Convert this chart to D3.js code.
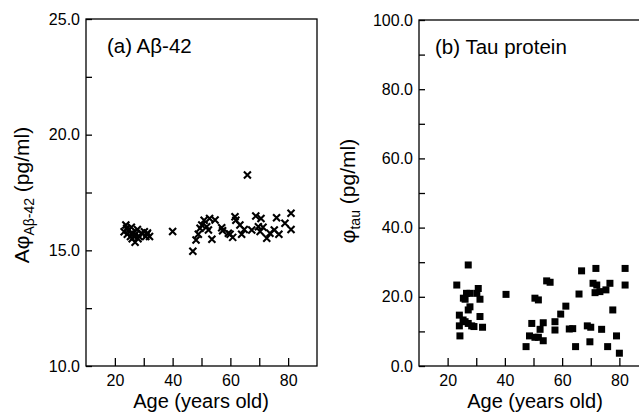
<!DOCTYPE html>
<html>
<head>
<meta charset="utf-8">
<script src="https://cdn.jsdelivr.net/npm/d3@7"></script>
<style>
  html, body { margin: 0; padding: 0; background: #fff; }
  svg { display: block; font-family: "Liberation Sans", Arial, sans-serif; }
</style>
</head>
<body>
<svg id="chart" width="639" height="412"></svg>
<script>
// ---- Data ----
const abAge = [23.2, 23.8, 24.1, 24.3, 24.6, 25.4, 25.7, 26.0, 26.1, 26.6, 27.0, 27.2, 27.8, 28.0, 28.4, 29.2, 30.2, 30.7, 31.1, 31.3, 32.0,
  40.0, 47.0, 48.1, 48.9, 49.5, 50.1, 50.9, 51.8, 52.4, 52.8, 53.6, 54.7, 57.0, 57.3, 59.3, 59.9, 60.8, 61.6, 61.9, 63.3, 63.9, 64.8,
  65.9, 67.4, 68.8, 69.7, 70.6, 70.3, 71.3, 72.6, 73.7, 75.2, 76.0, 76.8, 78.9, 81.0, 81.0];
const abVal = [15.8, 16.1, 15.95, 15.7, 15.85, 15.6, 16.0, 15.5, 15.75, 15.6, 15.35, 15.7, 15.9, 15.5, 15.6, 15.75, 15.8, 15.6, 15.7, 15.75, 15.6,
  15.81, 14.96, 15.45, 15.7, 15.95, 16.1, 16.3, 16.02, 15.88, 16.38, 15.48, 16.31, 15.98, 15.85, 15.74, 15.7, 15.56, 16.45, 16.3, 16.1, 15.7, 15.9,
  18.26, 15.88, 16.48, 16.02, 16.38, 15.81, 16.0, 15.52, 15.74, 15.88, 16.41, 15.7, 16.17, 16.6, 15.9];

const tauAge = [23.2, 27.2, 26.6, 27.8, 26.1, 25.5, 30.7, 31.3, 30.2, 27.8, 27.2, 24.1, 31.3, 24.1, 26.1, 27.2, 29.2, 32.2, 24.3, 25.4, 28.4,
  40.4, 47.4, 48.6, 49.4, 50.5, 51.7, 50.5, 51.7, 52.3, 53.4, 53.4, 54.6, 55.8, 57.5, 57.5, 59.5, 61.3, 62.5, 63.7, 64.7, 65.9, 66.8,
  68.8, 70.0, 69.7, 70.8, 72.1, 71.5, 71.8, 73.2, 73.8, 75.3, 75.9, 76.7, 77.7, 79.0, 80.0, 82.0, 82.0];
const tauVal = [23.4, 29.2, 21.0, 21.0, 19.3, 19.6, 22.4, 19.3, 21.0, 17.1, 16.2, 14.7, 14.3, 11.6, 12.8, 12.3, 11.4, 11.2, 8.7, 13.3, 11.6,
  20.7, 5.6, 8.7, 12.3, 19.6, 19.1, 8.3, 8.3, 10.6, 12.5, 7.3, 24.6, 24.2, 12.8, 10.4, 15.0, 17.3, 10.7, 10.8, 5.6, 20.8, 27.5,
  11.6, 11.2, 7.0, 23.9, 23.4, 21.2, 28.2, 21.5, 10.6, 22.0, 5.6, 23.9, 16.2, 8.7, 3.7, 28.2, 23.4];

const xDomain = [10, 90];
const xMajor = [20, 40, 60, 80];
const xMinor = [30, 50, 70];
const abDomain = [10, 25];
const abMajor = [10, 15, 20, 25];
const abMinor = [12.5, 17.5, 22.5];
const tauDomain = [0, 100];
const tauMajor = [0, 20, 40, 60, 80, 100];
const tauMinor = [10, 30, 50, 70, 90];

const svg = d3.select("#chart");
const fmt = d3.format(".1f");

function panel(opts) {
  const g = svg.append("g");
  const x = d3.scaleLinear().domain(xDomain).range([opts.left, opts.right]);
  const y = d3.scaleLinear().domain(opts.yDomain).range([opts.bottom, opts.top]);

  // frame
  g.append("rect")
    .attr("x", opts.left).attr("y", opts.top)
    .attr("width", opts.right - opts.left).attr("height", opts.bottom - opts.top)
    .attr("fill", "none").attr("stroke", "#000").attr("stroke-width", 1.3);

  // x axis
  const xa = g.append("g").attr("transform", `translate(0,${opts.bottom})`)
    .call(d3.axisBottom(x).tickValues(xMajor.concat(xMinor)).tickSizeInner(-8).tickSizeOuter(0)
      .tickPadding(8).tickFormat(d => xMajor.includes(d) ? d : ""));
  xa.select(".domain").remove();
  xa.selectAll("line").attr("stroke-width", 1.3);
  xa.selectAll("text").attr("font-size", 16).attr("font-family", "Liberation Sans, Arial, sans-serif")
    .attr("y", 20).attr("dy", 0);

  // y axis
  const ya = g.append("g").attr("transform", `translate(${opts.left},0)`)
    .call(d3.axisLeft(y).tickValues(opts.yMajor.concat(opts.yMinor)).tickSizeInner(-6).tickSizeOuter(0)
      .tickPadding(6).tickFormat(d => opts.yMajor.includes(d) ? fmt(d) : ""));
  ya.select(".domain").remove();
  ya.selectAll("line").attr("stroke-width", 1.3);
  ya.selectAll("text").attr("font-size", 16).attr("font-family", "Liberation Sans, Arial, sans-serif");

  // points
  if (opts.marker === "x") {
    const s = 3.5;
    g.append("g").selectAll("path").data(opts.ages).join("path")
      .attr("d", (d, i) => {
        const cx = x(d), cy = y(opts.vals[i]);
        return `M${cx - s},${cy - s}L${cx + s},${cy + s}M${cx - s},${cy + s}L${cx + s},${cy - s}`;
      })
      .attr("stroke", "#000").attr("stroke-width", 2.1).attr("fill", "none");
  } else {
    const s = 7;
    g.append("g").selectAll("rect").data(opts.ages).join("rect")
      .attr("x", d => x(d) - s / 2)
      .attr("y", (d, i) => y(opts.vals[i]) - s / 2)
      .attr("width", s).attr("height", s).attr("fill", "#000");
  }

  // title inside
  g.append("text").attr("x", opts.titleX).attr("y", opts.titleY)
    .attr("font-size", 20.5).attr("fill", "#000").text(opts.title);

  // x label
  g.append("text").attr("x", opts.xLabelX).attr("y", 407.6).attr("text-anchor", "middle")
    .attr("font-size", 20).attr("fill", "#000").text("Age (years old)");

  // y label
  const yl = g.append("text")
    .attr("transform", `translate(${opts.yLabelX},${opts.yLabelY}) rotate(-90)`)
    .attr("text-anchor", "middle").attr("font-size", 21).attr("fill", "#000");
  opts.yLabel(yl);
}

panel({
  left: 86, right: 317, top: 19, bottom: 366,
  yDomain: abDomain, yMajor: abMajor, yMinor: abMinor,
  ages: abAge, vals: abVal, marker: "x",
  title: "(a) Aβ-42", titleX: 107, titleY: 53,
  xLabelX: 201, yLabelX: 29, yLabelY: 195,
  yLabel: t => {
    t.append("tspan").text("Aφ");
    t.append("tspan").attr("font-size", 14).attr("dy", 5).text("Aβ-42");
    t.append("tspan").attr("dy", -5).text(" (pg/ml)");
  }
});

panel({
  left: 419, right: 648, top: 20, bottom: 366,
  yDomain: tauDomain, yMajor: tauMajor, yMinor: tauMinor,
  ages: tauAge, vals: tauVal, marker: "sq",
  title: "(b) Tau protein", titleX: 435, titleY: 54,
  xLabelX: 535, yLabelX: 355, yLabelY: 191,
  yLabel: t => {
    t.append("tspan").text("φ");
    t.append("tspan").attr("font-size", 14).attr("dy", 5).text("tau");
    t.append("tspan").attr("dy", -5).text(" (pg/ml)");
  }
});
</script>
</body>
</html>
